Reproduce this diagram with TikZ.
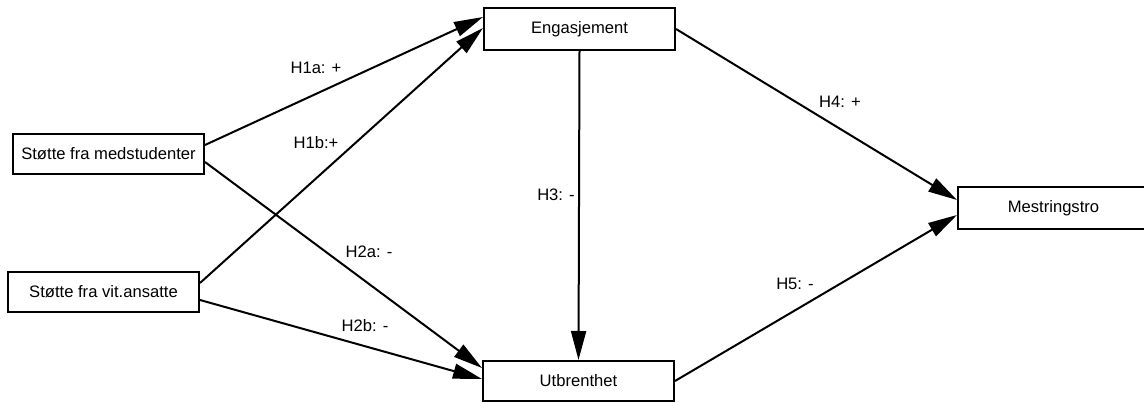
\documentclass[tikz,border=0pt]{standalone}
\usepackage{fontspec}
\setmainfont{Liberation Sans}
\usetikzlibrary{arrows.meta}

\begin{document}
\begin{tikzpicture}[x=1pt,y=-1pt,font=\fontsize{16.6}{19}\selectfont,
  box/.style={draw,line width=2pt,minimum width=191pt,minimum height=40pt,inner sep=0pt},
  hyp/.style={line width=2pt,-{Triangle[length=29pt,width=15pt]}},
  lbl/.style={inner sep=0pt}]
\useasboundingbox (0,0) rectangle (1144,403);
\node[box] (med) at (108.5,154) {Støtte fra medstudenter};
\node[box] (vit) at (103.5,292) {Støtte fra vit.ansatte};
\node[box,minimum height=42pt] (eng) at (579.5,29) {Engasjement};
\node[box] (utb) at (578.5,381) {Utbrenthet};
\node[box,minimum height=42pt] (mes) at (1053.5,208) {Mestringstro};
\draw[hyp] ([yshift=9pt]med.east) -- ([yshift=12pt]eng.west);
\draw[hyp] ([yshift=9pt]vit.east) -- ([yshift=1pt]eng.west);
\draw[hyp] ([yshift=-8pt]med.east) -- ([yshift=13pt]utb.west);
\draw[hyp] ([yshift=-8pt]vit.east) -- ([yshift=2pt]utb.west);
\draw[hyp] (eng.south) -- (utb.north);
\draw[hyp] (eng.east) -- ([yshift=8pt]mes.west);
\draw[hyp] (utb.east) -- ([yshift=-7pt]mes.west);
\node[lbl] (h1a) at (316,68) {H1a: +};
\node[lbl] (h1b) at (316,143) {H1b:+};
\node[lbl] (h2a) at (369,252) {H2a: -};
\node[lbl] (h2b) at (365,326) {H2b: -};
\node[lbl] (h3) at (556,195) {H3: -};
\node[lbl] (h4) at (840,102) {H4: +};
\node[lbl] (h5) at (795,284) {H5: -};
\end{tikzpicture}
\end{document}
